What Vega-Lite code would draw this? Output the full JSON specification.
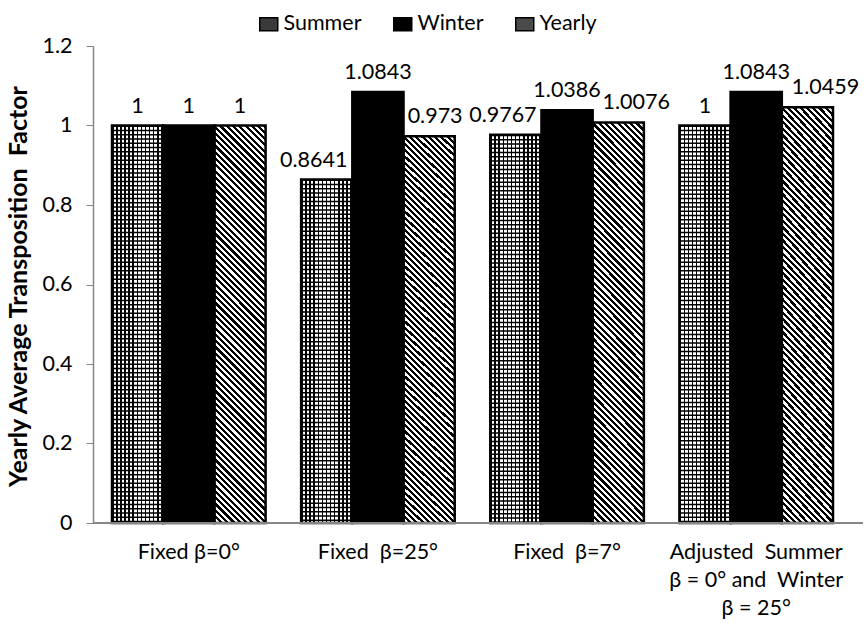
{
  "$schema": "https://vega.github.io/schema/vega-lite/v6.json",
  "width": 770,
  "height": 477,
  "autosize": {"type": "none"},
  "padding": {"left": 93, "top": 46, "right": 1, "bottom": 105},
  "background": "white",
  "config": {"view": {"stroke": null}, "font": "Lato"},
  "data": {
    "values": [
      {"cat": "Fixed β=0°", "season": "Summer", "value": 1},
      {"cat": "Fixed β=0°", "season": "Winter", "value": 1},
      {"cat": "Fixed β=0°", "season": "Yearly", "value": 1},
      {"cat": "Fixed\u00a0 β=25°", "season": "Summer", "value": 0.8641},
      {"cat": "Fixed\u00a0 β=25°", "season": "Winter", "value": 1.0843},
      {"cat": "Fixed\u00a0 β=25°", "season": "Yearly", "value": 0.973},
      {"cat": "Fixed\u00a0 β=7°", "season": "Summer", "value": 0.9767},
      {"cat": "Fixed\u00a0 β=7°", "season": "Winter", "value": 1.0386},
      {"cat": "Fixed\u00a0 β=7°", "season": "Yearly", "value": 1.0076},
      {"cat": "Adjusted\u00a0 Summer|β = 0° and\u00a0 Winter|β = 25°", "season": "Summer", "value": 1},
      {"cat": "Adjusted\u00a0 Summer|β = 0° and\u00a0 Winter|β = 25°", "season": "Winter", "value": 1.0843},
      {"cat": "Adjusted\u00a0 Summer|β = 0° and\u00a0 Winter|β = 25°", "season": "Yearly", "value": 1.0459}
    ]
  },
  "encoding": {
    "y": {
      "field": "value", "type": "quantitative",
      "scale": {"domain": [0, 1.2], "nice": false},
      "axis": {
        "title": "Yearly Average Transposition\u00a0 Factor",
        "titleFont": "Lato", "titleFontWeight": "bold", "titleFontSize": 25, "titleColor": "#000",
        "titleX": -62, "titleY": 240,
        "values": [0, 0.2, 0.4, 0.6, 0.8, 1, 1.2], "format": "~g",
        "labelFont": "Lato", "labelFontSize": 21.5, "labelColor": "#000", "labelPadding": 14,
        "tickSize": 7, "tickColor": "#868686", "domainColor": "#868686", "domainWidth": 1.5, "grid": false
      }
    }
  },
  "layer": [
    {
      "mark": {"type": "bar", "strokeWidth": 0},
      "encoding": {
        "x": {
          "field": "cat", "type": "nominal", "sort": null,
          "scale": {"range": [19, 740], "paddingInner": 0.188, "paddingOuter": 0},
          "axis": {
            "title": null, "labelExpr": "split(datum.label, '|')", "labelAngle": 0,
            "labelFont": "Lato", "labelFontSize": 21.5, "labelColor": "#000",
            "labelLineHeight": 28, "labelPadding": 18, "labelBaseline": "top",
            "labelLimit": 400, "labelOverlap": false,
            "ticks": false, "domain": false, "grid": false
          }
        },
        "xOffset": {
          "field": "season", "type": "nominal",
          "scale": {"domain": ["Summer", "Winter", "Yearly"], "paddingInner": 0, "paddingOuter": 0}
        },
        "color": {
          "field": "season", "type": "nominal",
          "scale": {"domain": ["Summer", "Winter", "Yearly"], "range": ["#3a3a3a", "#000", "#4a4a4a"]},
          "legend": {
            "title": null, "orient": "none", "direction": "horizontal",
            "legendX": 165, "legendY": -33, "padding": 0,
            "symbolType": "M-1.8,-1.3H1.8V1.3H-1.8Z", "symbolSize": 100,
            "symbolStrokeColor": "#000", "symbolStrokeWidth": 1.5,
            "labelFont": "Lato", "labelFontSize": 21.5, "labelColor": "#000",
            "labelOffset": 4, "columnPadding": 28
          }
        }
      }
    },
    {
      "transform": [{"filter": "datum.season === 'Summer'"}],
      "mark": {"type": "bar", "strokeWidth": 0, "fill": {"gradient": "linear", "x1": 0, "y1": 0, "x2": 1, "y2": 0, "stops": [
                {"offset": 0, "color": "#000"}, {"offset": 0.03, "color": "#000"}, {"offset": 0.03, "color": "#fff"}, {"offset": 0.08, "color": "#fff"},
                {"offset": 0.08, "color": "#000"}, {"offset": 0.11, "color": "#000"}, {"offset": 0.11, "color": "#fff"}, {"offset": 0.16, "color": "#fff"},
                {"offset": 0.16, "color": "#000"}, {"offset": 0.19, "color": "#000"}, {"offset": 0.19, "color": "#fff"}, {"offset": 0.24, "color": "#fff"},
                {"offset": 0.24, "color": "#000"}, {"offset": 0.27, "color": "#000"}, {"offset": 0.27, "color": "#fff"}, {"offset": 0.32, "color": "#fff"},
                {"offset": 0.32, "color": "#000"}, {"offset": 0.35, "color": "#000"}, {"offset": 0.35, "color": "#fff"}, {"offset": 0.4, "color": "#fff"},
                {"offset": 0.4, "color": "#000"}, {"offset": 0.43, "color": "#000"}, {"offset": 0.43, "color": "#fff"}, {"offset": 0.48, "color": "#fff"},
                {"offset": 0.48, "color": "#000"}, {"offset": 0.51, "color": "#000"}, {"offset": 0.51, "color": "#fff"}, {"offset": 0.56, "color": "#fff"},
                {"offset": 0.56, "color": "#000"}, {"offset": 0.59, "color": "#000"}, {"offset": 0.59, "color": "#fff"}, {"offset": 0.64, "color": "#fff"},
                {"offset": 0.64, "color": "#000"}, {"offset": 0.67, "color": "#000"}, {"offset": 0.67, "color": "#fff"}, {"offset": 0.72, "color": "#fff"},
                {"offset": 0.72, "color": "#000"}, {"offset": 0.75, "color": "#000"}, {"offset": 0.75, "color": "#fff"}, {"offset": 0.8, "color": "#fff"},
                {"offset": 0.8, "color": "#000"}, {"offset": 0.83, "color": "#000"}, {"offset": 0.83, "color": "#fff"}, {"offset": 0.88, "color": "#fff"},
                {"offset": 0.88, "color": "#000"}, {"offset": 0.91, "color": "#000"}, {"offset": 0.91, "color": "#fff"}, {"offset": 0.96, "color": "#fff"},
                {"offset": 0.96, "color": "#000"}, {"offset": 0.99, "color": "#000"}, {"offset": 0.99, "color": "#fff"}, {"offset": 1, "color": "#fff"}
              ]}},
      "encoding": {
        "x": {"field": "cat", "type": "nominal", "sort": null},
        "xOffset": {"field": "season", "type": "nominal"}
      }
    },
    {
      "transform": [{"filter": "datum.season === 'Yearly'"}],
      "mark": {"type": "bar", "strokeWidth": 0, "fill": {"gradient": "linear", "x1": 1, "y1": 0, "x2": 0.857, "y2": 1.11, "stops": [
        {"offset": 0, "color": "#000"}, {"offset": 0.007, "color": "#000"}, {"offset": 0.007, "color": "#fff"}, {"offset": 0.014, "color": "#fff"},
        {"offset": 0.014, "color": "#000"}, {"offset": 0.021, "color": "#000"}, {"offset": 0.021, "color": "#fff"}, {"offset": 0.028, "color": "#fff"},
        {"offset": 0.028, "color": "#000"}, {"offset": 0.035, "color": "#000"}, {"offset": 0.035, "color": "#fff"}, {"offset": 0.042, "color": "#fff"},
        {"offset": 0.042, "color": "#000"}, {"offset": 0.049, "color": "#000"}, {"offset": 0.049, "color": "#fff"}, {"offset": 0.056, "color": "#fff"},
        {"offset": 0.056, "color": "#000"}, {"offset": 0.063, "color": "#000"}, {"offset": 0.063, "color": "#fff"}, {"offset": 0.07, "color": "#fff"},
        {"offset": 0.07, "color": "#000"}, {"offset": 0.077, "color": "#000"}, {"offset": 0.077, "color": "#fff"}, {"offset": 0.084, "color": "#fff"},
        {"offset": 0.084, "color": "#000"}, {"offset": 0.091, "color": "#000"}, {"offset": 0.091, "color": "#fff"}, {"offset": 0.098, "color": "#fff"},
        {"offset": 0.098, "color": "#000"}, {"offset": 0.105, "color": "#000"}, {"offset": 0.105, "color": "#fff"}, {"offset": 0.112, "color": "#fff"},
        {"offset": 0.112, "color": "#000"}, {"offset": 0.119, "color": "#000"}, {"offset": 0.119, "color": "#fff"}, {"offset": 0.126, "color": "#fff"},
        {"offset": 0.126, "color": "#000"}, {"offset": 0.133, "color": "#000"}, {"offset": 0.133, "color": "#fff"}, {"offset": 0.14, "color": "#fff"},
        {"offset": 0.14, "color": "#000"}, {"offset": 0.147, "color": "#000"}, {"offset": 0.147, "color": "#fff"}, {"offset": 0.154, "color": "#fff"},
        {"offset": 0.154, "color": "#000"}, {"offset": 0.161, "color": "#000"}, {"offset": 0.161, "color": "#fff"}, {"offset": 0.168, "color": "#fff"},
        {"offset": 0.168, "color": "#000"}, {"offset": 0.175, "color": "#000"}, {"offset": 0.175, "color": "#fff"}, {"offset": 0.182, "color": "#fff"},
        {"offset": 0.182, "color": "#000"}, {"offset": 0.189, "color": "#000"}, {"offset": 0.189, "color": "#fff"}, {"offset": 0.196, "color": "#fff"},
        {"offset": 0.196, "color": "#000"}, {"offset": 0.203, "color": "#000"}, {"offset": 0.203, "color": "#fff"}, {"offset": 0.21, "color": "#fff"},
        {"offset": 0.21, "color": "#000"}, {"offset": 0.217, "color": "#000"}, {"offset": 0.217, "color": "#fff"}, {"offset": 0.224, "color": "#fff"},
        {"offset": 0.224, "color": "#000"}, {"offset": 0.231, "color": "#000"}, {"offset": 0.231, "color": "#fff"}, {"offset": 0.238, "color": "#fff"},
        {"offset": 0.238, "color": "#000"}, {"offset": 0.245, "color": "#000"}, {"offset": 0.245, "color": "#fff"}, {"offset": 0.252, "color": "#fff"},
        {"offset": 0.252, "color": "#000"}, {"offset": 0.259, "color": "#000"}, {"offset": 0.259, "color": "#fff"}, {"offset": 0.266, "color": "#fff"},
        {"offset": 0.266, "color": "#000"}, {"offset": 0.273, "color": "#000"}, {"offset": 0.273, "color": "#fff"}, {"offset": 0.28, "color": "#fff"},
        {"offset": 0.28, "color": "#000"}, {"offset": 0.287, "color": "#000"}, {"offset": 0.287, "color": "#fff"}, {"offset": 0.294, "color": "#fff"},
        {"offset": 0.294, "color": "#000"}, {"offset": 0.301, "color": "#000"}, {"offset": 0.301, "color": "#fff"}, {"offset": 0.308, "color": "#fff"},
        {"offset": 0.308, "color": "#000"}, {"offset": 0.315, "color": "#000"}, {"offset": 0.315, "color": "#fff"}, {"offset": 0.322, "color": "#fff"},
        {"offset": 0.322, "color": "#000"}, {"offset": 0.329, "color": "#000"}, {"offset": 0.329, "color": "#fff"}, {"offset": 0.336, "color": "#fff"},
        {"offset": 0.336, "color": "#000"}, {"offset": 0.343, "color": "#000"}, {"offset": 0.343, "color": "#fff"}, {"offset": 0.35, "color": "#fff"},
        {"offset": 0.35, "color": "#000"}, {"offset": 0.357, "color": "#000"}, {"offset": 0.357, "color": "#fff"}, {"offset": 0.364, "color": "#fff"},
        {"offset": 0.364, "color": "#000"}, {"offset": 0.371, "color": "#000"}, {"offset": 0.371, "color": "#fff"}, {"offset": 0.378, "color": "#fff"},
        {"offset": 0.378, "color": "#000"}, {"offset": 0.385, "color": "#000"}, {"offset": 0.385, "color": "#fff"}, {"offset": 0.392, "color": "#fff"},
        {"offset": 0.392, "color": "#000"}, {"offset": 0.399, "color": "#000"}, {"offset": 0.399, "color": "#fff"}, {"offset": 0.406, "color": "#fff"},
        {"offset": 0.406, "color": "#000"}, {"offset": 0.413, "color": "#000"}, {"offset": 0.413, "color": "#fff"}, {"offset": 0.42, "color": "#fff"},
        {"offset": 0.42, "color": "#000"}, {"offset": 0.427, "color": "#000"}, {"offset": 0.427, "color": "#fff"}, {"offset": 0.434, "color": "#fff"},
        {"offset": 0.434, "color": "#000"}, {"offset": 0.441, "color": "#000"}, {"offset": 0.441, "color": "#fff"}, {"offset": 0.448, "color": "#fff"},
        {"offset": 0.448, "color": "#000"}, {"offset": 0.455, "color": "#000"}, {"offset": 0.455, "color": "#fff"}, {"offset": 0.462, "color": "#fff"},
        {"offset": 0.462, "color": "#000"}, {"offset": 0.469, "color": "#000"}, {"offset": 0.469, "color": "#fff"}, {"offset": 0.476, "color": "#fff"},
        {"offset": 0.476, "color": "#000"}, {"offset": 0.483, "color": "#000"}, {"offset": 0.483, "color": "#fff"}, {"offset": 0.49, "color": "#fff"},
        {"offset": 0.49, "color": "#000"}, {"offset": 0.497, "color": "#000"}, {"offset": 0.497, "color": "#fff"}, {"offset": 0.504, "color": "#fff"},
        {"offset": 0.504, "color": "#000"}, {"offset": 0.511, "color": "#000"}, {"offset": 0.511, "color": "#fff"}, {"offset": 0.518, "color": "#fff"},
        {"offset": 0.518, "color": "#000"}, {"offset": 0.525, "color": "#000"}, {"offset": 0.525, "color": "#fff"}, {"offset": 0.532, "color": "#fff"},
        {"offset": 0.532, "color": "#000"}, {"offset": 0.539, "color": "#000"}, {"offset": 0.539, "color": "#fff"}, {"offset": 0.546, "color": "#fff"},
        {"offset": 0.546, "color": "#000"}, {"offset": 0.553, "color": "#000"}, {"offset": 0.553, "color": "#fff"}, {"offset": 0.56, "color": "#fff"},
        {"offset": 0.56, "color": "#000"}, {"offset": 0.567, "color": "#000"}, {"offset": 0.567, "color": "#fff"}, {"offset": 0.574, "color": "#fff"},
        {"offset": 0.574, "color": "#000"}, {"offset": 0.581, "color": "#000"}, {"offset": 0.581, "color": "#fff"}, {"offset": 0.588, "color": "#fff"},
        {"offset": 0.588, "color": "#000"}, {"offset": 0.595, "color": "#000"}, {"offset": 0.595, "color": "#fff"}, {"offset": 0.602, "color": "#fff"},
        {"offset": 0.602, "color": "#000"}, {"offset": 0.609, "color": "#000"}, {"offset": 0.609, "color": "#fff"}, {"offset": 0.616, "color": "#fff"},
        {"offset": 0.616, "color": "#000"}, {"offset": 0.623, "color": "#000"}, {"offset": 0.623, "color": "#fff"}, {"offset": 0.63, "color": "#fff"},
        {"offset": 0.63, "color": "#000"}, {"offset": 0.637, "color": "#000"}, {"offset": 0.637, "color": "#fff"}, {"offset": 0.644, "color": "#fff"},
        {"offset": 0.644, "color": "#000"}, {"offset": 0.651, "color": "#000"}, {"offset": 0.651, "color": "#fff"}, {"offset": 0.658, "color": "#fff"},
        {"offset": 0.658, "color": "#000"}, {"offset": 0.665, "color": "#000"}, {"offset": 0.665, "color": "#fff"}, {"offset": 0.672, "color": "#fff"},
        {"offset": 0.672, "color": "#000"}, {"offset": 0.679, "color": "#000"}, {"offset": 0.679, "color": "#fff"}, {"offset": 0.686, "color": "#fff"},
        {"offset": 0.686, "color": "#000"}, {"offset": 0.693, "color": "#000"}, {"offset": 0.693, "color": "#fff"}, {"offset": 0.7, "color": "#fff"},
        {"offset": 0.7, "color": "#000"}, {"offset": 0.707, "color": "#000"}, {"offset": 0.707, "color": "#fff"}, {"offset": 0.714, "color": "#fff"},
        {"offset": 0.714, "color": "#000"}, {"offset": 0.721, "color": "#000"}, {"offset": 0.721, "color": "#fff"}, {"offset": 0.728, "color": "#fff"},
        {"offset": 0.728, "color": "#000"}, {"offset": 0.735, "color": "#000"}, {"offset": 0.735, "color": "#fff"}, {"offset": 0.742, "color": "#fff"},
        {"offset": 0.742, "color": "#000"}, {"offset": 0.749, "color": "#000"}, {"offset": 0.749, "color": "#fff"}, {"offset": 0.756, "color": "#fff"},
        {"offset": 0.756, "color": "#000"}, {"offset": 0.763, "color": "#000"}, {"offset": 0.763, "color": "#fff"}, {"offset": 0.77, "color": "#fff"},
        {"offset": 0.77, "color": "#000"}, {"offset": 0.777, "color": "#000"}, {"offset": 0.777, "color": "#fff"}, {"offset": 0.784, "color": "#fff"},
        {"offset": 0.784, "color": "#000"}, {"offset": 0.791, "color": "#000"}, {"offset": 0.791, "color": "#fff"}, {"offset": 0.798, "color": "#fff"},
        {"offset": 0.798, "color": "#000"}, {"offset": 0.805, "color": "#000"}, {"offset": 0.805, "color": "#fff"}, {"offset": 0.812, "color": "#fff"},
        {"offset": 0.812, "color": "#000"}, {"offset": 0.819, "color": "#000"}, {"offset": 0.819, "color": "#fff"}, {"offset": 0.826, "color": "#fff"},
        {"offset": 0.826, "color": "#000"}, {"offset": 0.833, "color": "#000"}, {"offset": 0.833, "color": "#fff"}, {"offset": 0.84, "color": "#fff"},
        {"offset": 0.84, "color": "#000"}, {"offset": 0.847, "color": "#000"}, {"offset": 0.847, "color": "#fff"}, {"offset": 0.854, "color": "#fff"},
        {"offset": 0.854, "color": "#000"}, {"offset": 0.861, "color": "#000"}, {"offset": 0.861, "color": "#fff"}, {"offset": 0.868, "color": "#fff"},
        {"offset": 0.868, "color": "#000"}, {"offset": 0.875, "color": "#000"}, {"offset": 0.875, "color": "#fff"}, {"offset": 0.882, "color": "#fff"},
        {"offset": 0.882, "color": "#000"}, {"offset": 0.889, "color": "#000"}, {"offset": 0.889, "color": "#fff"}, {"offset": 0.896, "color": "#fff"},
        {"offset": 0.896, "color": "#000"}, {"offset": 0.903, "color": "#000"}, {"offset": 0.903, "color": "#fff"}, {"offset": 0.91, "color": "#fff"},
        {"offset": 0.91, "color": "#000"}, {"offset": 0.917, "color": "#000"}, {"offset": 0.917, "color": "#fff"}, {"offset": 0.924, "color": "#fff"},
        {"offset": 0.924, "color": "#000"}, {"offset": 0.931, "color": "#000"}, {"offset": 0.931, "color": "#fff"}, {"offset": 0.938, "color": "#fff"},
        {"offset": 0.938, "color": "#000"}, {"offset": 0.945, "color": "#000"}, {"offset": 0.945, "color": "#fff"}, {"offset": 0.952, "color": "#fff"},
        {"offset": 0.952, "color": "#000"}, {"offset": 0.959, "color": "#000"}, {"offset": 0.959, "color": "#fff"}, {"offset": 0.966, "color": "#fff"},
        {"offset": 0.966, "color": "#000"}, {"offset": 0.973, "color": "#000"}, {"offset": 0.973, "color": "#fff"}, {"offset": 0.98, "color": "#fff"},
        {"offset": 0.98, "color": "#000"}, {"offset": 0.987, "color": "#000"}, {"offset": 0.987, "color": "#fff"}, {"offset": 0.994, "color": "#fff"},
        {"offset": 0.994, "color": "#000"}, {"offset": 1, "color": "#000"}
      ]}},
      "encoding": {
        "x": {"field": "cat", "type": "nominal", "sort": null},
        "xOffset": {"field": "season", "type": "nominal"}
      }
    },
    {
      "transform": [{"filter": "datum.season === 'Summer'"}],
      "mark": {"type": "rule", "strokeWidth": 51, "strokeDash": [1.5, 2.75], "color": "#000"},
      "encoding": {
        "x": {"field": "cat", "type": "nominal", "sort": null},
        "xOffset": {"field": "season", "type": "nominal"},
        "y2": {"datum": 0}
      }
    },
    {
      "mark": {"type": "bar", "fill": "#fff", "fillOpacity": 0, "stroke": "#000", "strokeWidth": 2.5},
      "encoding": {
        "x": {"field": "cat", "type": "nominal", "sort": null},
        "xOffset": {"field": "season", "type": "nominal"}
      }
    },
    {
      "mark": {
        "type": "text", "baseline": "alphabetic", "dy": -13, "font": "Lato", "fontSize": 21.5, "color": "#000",
        "dx": {"expr": "datum.season === 'Summer' ? (datum.value < 1 ? -13 : 0) : (datum.season === 'Yearly' ? (datum.value > 1 ? 18 : (datum.value < 1 ? 6 : 0)) : 0)"}
      },
      "encoding": {
        "x": {"field": "cat", "type": "nominal", "sort": null},
        "xOffset": {"field": "season", "type": "nominal"},
        "text": {"field": "value", "type": "quantitative", "format": "~g"}
      }
    },
    {
      "mark": {"type": "rule", "color": "#868686", "strokeWidth": 1.5},
      "encoding": {"y": {"datum": 0}}
    }
  ]
}
